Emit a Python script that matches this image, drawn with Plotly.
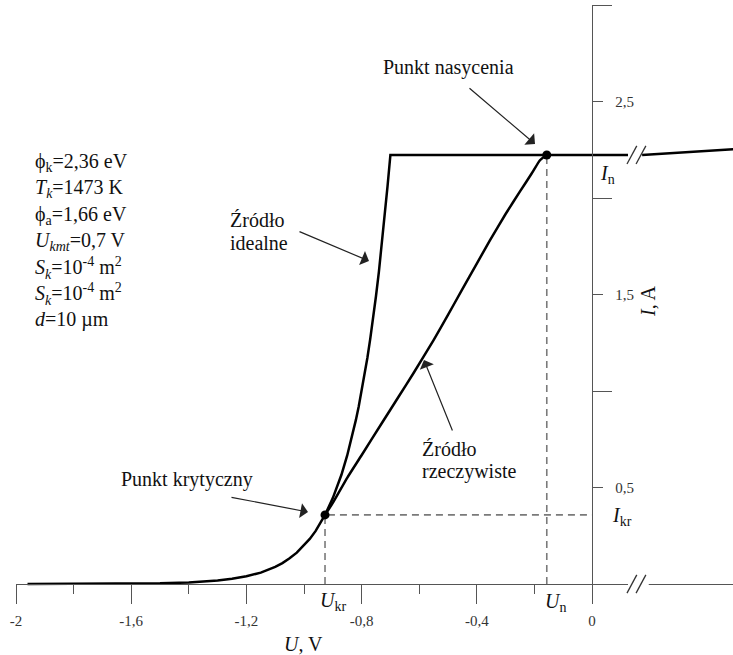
import plotly.graph_objects as go

# ---------------- data ----------------
ideal_U = [-1.96, -1.9, -1.8, -1.7, -1.6, -1.5, -1.4, -1.35, -1.3, -1.25, -1.2, -1.15,
           -1.125, -1.1, -1.075, -1.05, -1.025, -1.0, -0.98, -0.96, -0.945, -0.927,
           -0.9, -0.87, -0.85, -0.835, -0.82, -0.81, -0.8, -0.79, -0.78, -0.77, -0.76,
           -0.75, -0.74, -0.73, -0.72, -0.71, -0.70, 0.125]
ideal_I = [0.0, 0.0001, 0.0003, 0.0007, 0.0016, 0.0035, 0.0079, 0.0118, 0.0177, 0.027,
           0.040, 0.059, 0.0725, 0.089, 0.1085, 0.133, 0.1624, 0.199, 0.2336, 0.274,
           0.3097, 0.358, 0.445, 0.566, 0.666, 0.752, 0.849, 0.920, 0.997, 1.080, 1.171,
           1.270, 1.376, 1.492, 1.617, 1.753, 1.90, 2.06, 2.223, 2.223]

real_U = [-0.927, -0.9, -0.85, -0.80, -0.73, -0.67, -0.62, -0.55, -0.50, -0.452, -0.40,
          -0.354, -0.30, -0.25, -0.209, -0.18, -0.157]
real_I = [0.358, 0.42, 0.55, 0.667, 0.833, 0.974, 1.092, 1.264, 1.394, 1.523, 1.66,
          1.782, 1.917, 2.034, 2.128, 2.197, 2.223]

cont_U = [0.174, 0.49]       # saturation line beyond the axis break
cont_I = [2.223, 2.252]

U_kr, I_kr = -0.927, 0.358   # critical point
U_n, I_n = -0.157, 2.223     # saturation point

x_tickvals = [-2, -1.6, -1.2, -0.8, -0.4, 0]
x_ticktext = ["-2", "-1,6", "-1,2", "-0,8", "-0,4", "0"]
x_minor = [-1.8, -1.4, -1.0, -0.6, -0.2]
y_tickvals = [0.5, 1.5, 2.5]
y_ticktext = ["0,5", "1,5", "2,5"]
y_minor = [1.0, 2.0, 3.0]

break_U = [0.1215, 0.153]    # left ends of the "//" break slashes

params = ["ϕ<sub>k</sub>=2,36 eV",
          "<i>T<sub>k</sub></i>=1473 K",
          "ϕ<sub>a</sub>=1,66 eV",
          "<i>U<sub>kmt</sub></i>=0,7 V",
          "<i>S<sub>k</sub></i>=10<sup>-4</sup> m<sup>2</sup>",
          "<i>S<sub>k</sub></i>=10<sup>-4</sup> m<sup>2</sup>",
          "<i>d</i>=10 µm"]

# ---------------- geometry ----------------
W, H = 733, 655
L, R, T, B = 16, 0, 5, 57
X0PX, PXU = 592.0, 288.0
Y0PX, PYU = 584.0, 193.0
xr = [(L - X0PX) / PXU, (W - R - X0PX) / PXU]
yr = [(Y0PX - (H - B)) / PYU, (Y0PX - T) / PYU]


def pp(x, y):
    """pixel -> paper coords"""
    return (x - L) / (W - L - R), (H - B - y) / (H - T - B)


FONT = "Liberation Serif, Times New Roman, serif"
fig = go.Figure()

dash_style = dict(color="#7a7a7a", width=1.6, dash="7px,5px")
fig.add_trace(go.Scatter(x=[U_kr, U_kr, 0], y=[0, I_kr, I_kr], mode="lines",
                         line=dash_style, hoverinfo="skip"))
fig.add_trace(go.Scatter(x=[U_n, U_n], y=[0, I_n], mode="lines",
                         line=dash_style, hoverinfo="skip"))

curve = dict(color="black", width=2.5)
fig.add_trace(go.Scatter(x=ideal_U, y=ideal_I, mode="lines", line=curve))
fig.add_trace(go.Scatter(x=real_U, y=real_I, mode="lines", line=curve,
                         line_shape="spline", line_smoothing=0.5))
fig.add_trace(go.Scatter(x=cont_U, y=cont_I, mode="lines", line=curve))
fig.add_trace(go.Scatter(x=[U_kr, U_n], y=[I_kr, I_n], mode="markers",
                         marker=dict(color="black", size=9)))

# ---------------- axis breaks ----------------
shapes = []
shapes.append(dict(type="rect", xref="x", yref="y", x0=0.125, x1=0.197, y0=-0.03, y1=0.03,
                   fillcolor="white", line=dict(width=0), layer="above"))
for bu in break_U:
    for yc in (0.0, I_n):
        shapes.append(dict(type="line", xref="x", yref="y", x0=bu, x1=bu + 0.034,
                           y0=yc - 0.047, y1=yc + 0.047,
                           line=dict(color="#333", width=1.3), layer="above"))

# ---------------- annotations ----------------
ann = []


def txt(text, x, y, size=20, xanchor="center", textangle=0, color="#111"):
    xp, yp = pp(x, y)
    ann.append(dict(text=text, x=xp, y=yp, xref="paper", yref="paper", showarrow=False,
                    xanchor=xanchor, yanchor="middle", textangle=textangle,
                    font=dict(family=FONT, size=size, color=color)))


def arrow(x_tail, y_tail, x_tip, y_tip):
    ann.append(dict(text="", x=(x_tip - X0PX) / PXU, y=(Y0PX - y_tip) / PYU,
                    ax=(x_tail - X0PX) / PXU, ay=(Y0PX - y_tail) / PYU,
                    xref="x", yref="y", axref="x", ayref="y", showarrow=True,
                    arrowhead=1, arrowsize=2.1, arrowwidth=1.2, arrowcolor="#222",
                    standoff=0, startstandoff=0))


txt("Punkt nasycenia", 448, 67)
arrow(468, 87, 535, 144)
txt("Źródło", 228, 220, xanchor="left")
txt("idealne", 228, 243, xanchor="left")
arrow(298, 231, 369, 261)
txt("Źródło", 420, 449, xanchor="left")
txt("rzeczywiste", 420, 471, xanchor="left")
arrow(453, 432, 424, 360)
txt("Punkt krytyczny", 187, 480)
arrow(230, 497, 308, 512)

for i, p in enumerate(params):
    txt(p, 33, 162.7 + i * 26.2, xanchor="left")

txt("<i>U</i><sub>kr</sub>", 333, 601)
txt("<i>U</i><sub>n</sub>", 555, 602)
txt("<i>I</i><sub>n</sub>", 607, 174)
txt("<i>I</i><sub>kr</sub>", 622, 516)
txt("<i>U</i>, V", 303, 644)
txt("<i>I</i>, A", 648, 301, textangle=-90)

fig.update_layout(
    width=W, height=H, margin=dict(l=L, r=R, t=T, b=B, pad=0),
    plot_bgcolor="white", paper_bgcolor="white", showlegend=False,
    shapes=shapes, annotations=ann,
    xaxis=dict(range=xr, anchor="free", position=(0 - yr[0]) / (yr[1] - yr[0]),
               showgrid=False, zeroline=False, showline=True, linecolor="#555",
               linewidth=1.3, ticks="outside", ticklen=19, tickwidth=1.3,
               tickcolor="#555", tickmode="array", tickvals=x_tickvals,
               ticktext=x_ticktext, ticklabelstandoff=4,
               tickfont=dict(family=FONT, size=15, color="#333"),
               minor=dict(tickmode="array", tickvals=x_minor, ticks="outside",
                          ticklen=9, tickwidth=1.3, tickcolor="#555", showgrid=False)),
    yaxis=dict(range=yr, anchor="free", side="right",
               position=(0 - xr[0]) / (xr[1] - xr[0]),
               showgrid=False, zeroline=False, showline=True, linecolor="#555",
               linewidth=1.3, ticks="outside", ticklen=10, tickwidth=1.3,
               tickcolor="#555", tickmode="array", tickvals=y_tickvals,
               ticktext=y_ticktext, ticklabelstandoff=9,
               tickfont=dict(family=FONT, size=15, color="#333"),
               minor=dict(tickmode="array", tickvals=y_minor, ticks="outside",
                          ticklen=19, tickwidth=1.3, tickcolor="#555", showgrid=False)),
)

fig.write_html("out.html")
